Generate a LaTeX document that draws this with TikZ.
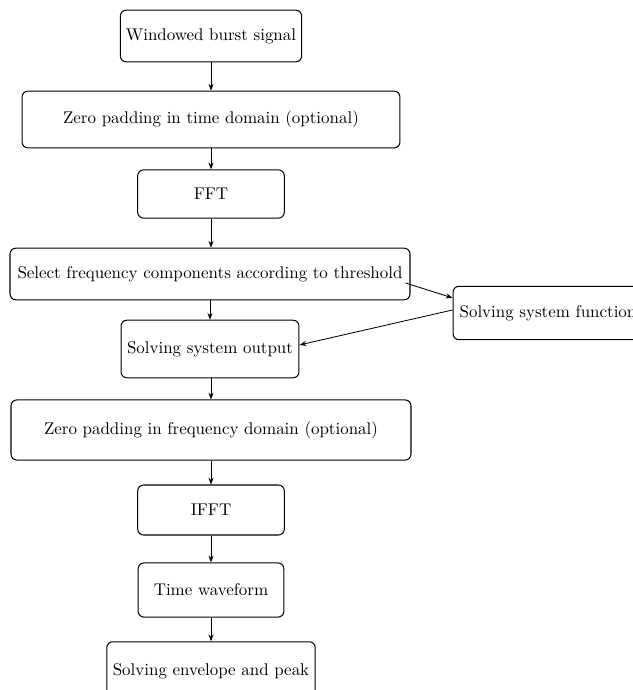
\documentclass[tikz,border=0pt]{standalone}
\usetikzlibrary{arrows.meta}
\begin{document}
\begin{tikzpicture}[x=0.59pt,y=-0.59pt,
  box/.style={draw,rounded corners=3.5pt,line width=0.6pt,align=center,inner sep=2pt},
  arr/.style={-{Stealth[length=4pt,width=3pt]},line width=0.5pt}]
\useasboundingbox (0,0) rectangle (633,690);
\begin{scope}
\clip (0,0) rectangle (633,690);
\node[box,minimum width=107pt,minimum height=30.5pt] (n1) at (211,36) {Windowed burst signal};
\node[box,minimum width=223pt,minimum height=33.5pt] (n2) at (211,119.5) {Zero padding in time domain (optional)};
\node[box,minimum width=86.5pt,minimum height=28.5pt] (n3) at (211,194) {FFT};
\node[box,minimum width=236pt,minimum height=30.5pt] (n4) at (210,274) {Select frequency components according to threshold};
\node[box,minimum width=112pt,minimum height=31.5pt] (n5) at (548,313) {Solving system function};
\node[box,minimum width=105pt,minimum height=34pt] (n6) at (210,349) {Solving system output};
\node[box,minimum width=236pt,minimum height=35.5pt] (n7) at (211,430) {Zero padding in frequency domain (optional)};
\node[box,minimum width=86.5pt,minimum height=29.5pt] (n8) at (211,510) {IFFT};
\node[box,minimum width=86pt,minimum height=32pt] (n9) at (211,590) {Time waveform};
\node[box,minimum width=123pt,minimum height=34.5pt] (n10) at (211,671) {Solving envelope and peak};
\draw[arr] (n1) -- (n2);
\draw[arr] (n2) -- (n3);
\draw[arr] (n3.south) -- (n3.south |- n4.north);
\draw[arr] (n4.south -| n6.north) -- (n6.north);
\draw[arr] (n6.south -| n7.north) -- (n7.north);
\draw[arr] (n7) -- (n8);
\draw[arr] (n8) -- (n9);
\draw[arr] (n9) -- (n10);
\draw[arr] ([xshift=-3pt,yshift=-5.3pt]n4.east) -- ([yshift=8.9pt]n5.west);
\draw[arr] ([yshift=1.8pt]n5.west) -- ([yshift=2.4pt]n6.east);
\end{scope}
\end{tikzpicture}
\end{document}
